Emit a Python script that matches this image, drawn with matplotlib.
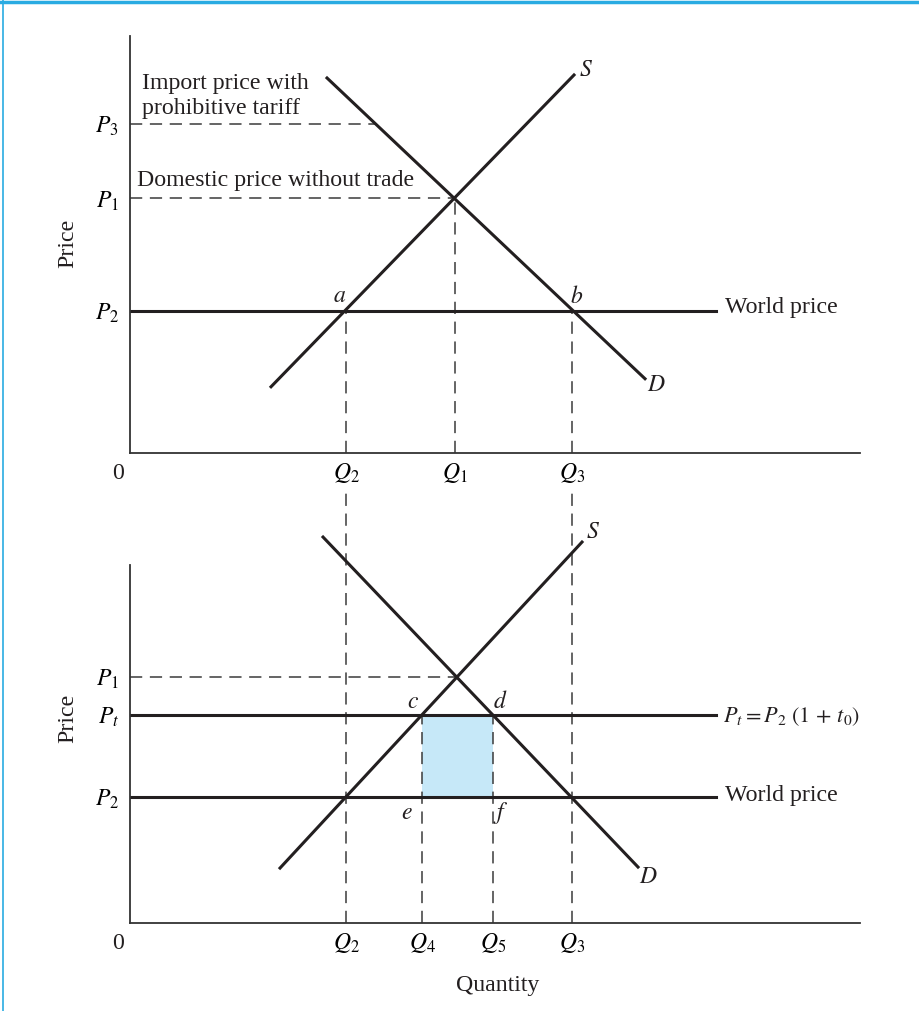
import matplotlib
matplotlib.use("Agg")
import matplotlib.pyplot as plt
from matplotlib.lines import Line2D

plt.rcParams['font.family'] = ['Liberation Serif', 'DejaVu Serif']
plt.rcParams['mathtext.fontset'] = 'stix'

# --- top panel (free trade) ---
top_q = {'Q2': 21.6, 'Q1': 32.5, 'Q3': 44.2}
top_p = {'P2': 14.2, 'P1': 25.4, 'P3': 32.8}
top_supply_q = [14.1, 44.4]
top_supply_p = [6.6, 37.7]
top_demand_q = [19.7, 51.5]
top_demand_p = [37.4, 7.4]
p3_end_q = 24.6
world_end_q = 58.6

# --- bottom panel (tariff) ---
bot_q = {'Q2': 21.6, 'Q4': 29.2, 'Q5': 36.3, 'Q3': 44.2}
bot_p = {'P2': 12.6, 'Pt': 20.8, 'P1': 24.6}
bot_supply_q = [15.0, 45.2]
bot_supply_p = [5.5, 38.1]
bot_demand_q = [19.3, 50.8]
bot_demand_p = [38.6, 5.6]
p1_end_q = 32.6

INK = '#231f20'
DASH = '#3a3a3a'
FILL = '#c6e8f8'
BLUE = '#29abe2'
FS = 17.2

fig = plt.figure(figsize=(9.19, 10.11), dpi=100)
ax1 = fig.add_axes([0.1415, 0.5520, 0.7943, 0.4125])
ax2 = fig.add_axes([0.1415, 0.0870, 0.7943, 0.3541])


def style(ax, ymax):
    ax.set_xlim(0, 73)
    ax.set_ylim(0, ymax)
    for s in ['top', 'right']:
        ax.spines[s].set_visible(False)
    for s in ['left', 'bottom']:
        ax.spines[s].set_color('#333333')
        ax.spines[s].set_linewidth(1.3)
    ax.tick_params(axis='x', length=0, labelsize=17, pad=6)
    ax.tick_params(axis='y', length=0, labelsize=17, pad=8)
    ax.text(-1.2, -1.0, '0', ha='center', va='top', fontsize=FS, color=INK)


def dash_v(ax, x, y0, y1, clip=True):
    ax.plot([x, x], [y0, y1], color=DASH, lw=1.1, dashes=(8, 5), clip_on=clip)


def dash_h(ax, y, x1):
    ax.plot([0, x1], [y, y], color=DASH, lw=1.1, dashes=(8, 5))


# top panel
style(ax1, 41.6)
ax1.set_xticks(list(top_q.values()))
ax1.set_xticklabels(['$Q_2$', '$Q_1$', '$Q_3$'])
ax1.set_yticks(list(top_p.values()))
ax1.set_yticklabels(['$P_2$', '$P_1$', '$P_3$'])

dash_h(ax1, top_p['P3'], p3_end_q)
dash_h(ax1, top_p['P1'], top_q['Q1'])
dash_v(ax1, top_q['Q1'], 0, top_p['P1'])
dash_v(ax1, top_q['Q2'], 0, top_p['P2'])
dash_v(ax1, top_q['Q3'], 0, top_p['P2'])
ax1.plot([0, world_end_q], [top_p['P2']] * 2, color=INK, lw=2.2)
ax1.plot(top_supply_q, top_supply_p, color=INK, lw=2.2)
ax1.plot(top_demand_q, top_demand_p, color=INK, lw=2.2)

ax1.text(1.2, 35.6, 'Import price with\nprohibitive tariff', fontsize=FS,
         va='center', ha='left', linespacing=1.25, color=INK)
ax1.text(0.7, 27.2, 'Domestic price without trade', fontsize=FS,
         va='center', ha='left', color=INK)
ax1.text(59.5, 14.5, 'World price', fontsize=FS, va='center', ha='left', color=INK)
ax1.text(21.0, 15.6, '$a$', fontsize=17, ha='center', va='center', color=INK)
ax1.text(44.7, 15.6, '$b$', fontsize=17, ha='center', va='center', color=INK)
ax1.text(45.6, 38.1, '$S$', fontsize=17, ha='center', va='center', color=INK)
ax1.text(52.6, 6.7, '$D$', fontsize=17, ha='center', va='center', color=INK)

# bottom panel
style(ax2, 35.8)
ax2.set_xticks(list(bot_q.values()))
ax2.set_xticklabels(['$Q_2$', '$Q_4$', '$Q_5$', '$Q_3$'])
ax2.set_yticks(list(bot_p.values()))
ax2.set_yticklabels(['$P_2$', '$P_t$', '$P_1$'])

ax2.fill_between([bot_q['Q4'], bot_q['Q5']], bot_p['P2'], bot_p['Pt'],
                 color=FILL, lw=0)
dash_h(ax2, bot_p['P1'], p1_end_q)
dash_v(ax2, bot_q['Q4'], 0, bot_p['Pt'])
dash_v(ax2, bot_q['Q5'], 0, bot_p['Pt'])
dash_v(ax2, bot_q['Q2'], 0, 43.6, clip=False)
dash_v(ax2, bot_q['Q3'], 0, 43.6, clip=False)
ax2.plot([0, world_end_q], [bot_p['Pt']] * 2, color=INK, lw=2.2)
ax2.plot([0, world_end_q], [bot_p['P2']] * 2, color=INK, lw=2.2)
ax2.plot(bot_supply_q, bot_supply_p, color=INK, lw=2.2, clip_on=False)
ax2.plot(bot_demand_q, bot_demand_p, color=INK, lw=2.2, clip_on=False)

ax2.text(59.3, 20.6, '$P_t = P_2\\ (1\\, +\\, t_0)$', fontsize=16,
         va='center', ha='left', color=INK)
ax2.text(59.5, 12.8, 'World price', fontsize=FS, va='center', ha='left', color=INK)
ax2.text(28.3, 22.1, '$c$', fontsize=17, ha='center', va='center', color=INK)
ax2.text(37.0, 22.1, '$d$', fontsize=17, ha='center', va='center', color=INK)
ax2.text(27.7, 11.0, '$e$', fontsize=17, ha='center', va='center', color=INK)
ax2.text(37.1, 11.0, '$f$', fontsize=17, ha='center', va='center', color=INK)
ax2.text(46.3, 39.1, '$S$', fontsize=17, ha='center', va='center', color=INK)
ax2.text(51.8, 4.6, '$D$', fontsize=17, ha='center', va='center', color=INK)

fig.text(68 / 919, 1 - 243 / 1011, 'Price', rotation=90, fontsize=FS,
         ha='center', va='center', color=INK)
fig.text(68 / 919, 1 - 718 / 1011, 'Price', rotation=90, fontsize=FS,
         ha='center', va='center', color=INK)
fig.text(498 / 919, 1 - 985 / 1011, 'Quantity', fontsize=FS,
         ha='center', va='center', color=INK)

# blue frame
fig.add_artist(Line2D([0, 1], [0.9985, 0.9985], color=BLUE, lw=2.5,
                      transform=fig.transFigure))
fig.add_artist(Line2D([0.003, 0.003], [0, 1], color=BLUE, lw=1.2,
                      transform=fig.transFigure))

fig.savefig('out.png', dpi=100)
